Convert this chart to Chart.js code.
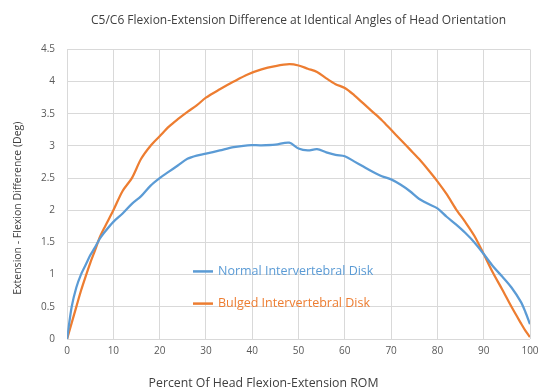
<!DOCTYPE html>
<html>
<head>
<meta charset="utf-8">
<script src="https://cdn.jsdelivr.net/npm/chart.js@4.4.1/dist/chart.umd.min.js"></script>
<style>
  html, body { margin: 0; padding: 0; background: #fff; }
  #wrap { width: 539px; height: 390px; }
</style>
</head>
<body>
<div id="wrap"><canvas id="grafico" width="539" height="390"></canvas></div>
<script>
// Dados (percentual do ROM -> diferença em graus)
const pctRom = [0, 1, 2, 3, 4, 5, 6, 7, 8, 10, 12, 14, 16, 18, 20, 22, 24, 26, 28, 30,
  33, 36, 39, 42, 45, 48, 50, 52, 54, 56, 58, 60, 62, 64, 66, 68, 70, 72, 74, 76, 78,
  80, 82, 84, 86, 88, 90, 92, 94, 96, 98, 99, 100];

const discoNormal = [0, 0.5, 0.8, 1.0, 1.15, 1.3, 1.42, 1.55, 1.65, 1.82, 1.95, 2.1, 2.22, 2.38, 2.5, 2.6, 2.7, 2.8, 2.85, 2.88,
  2.93, 2.98, 3.01, 3.01, 3.02, 3.05, 2.96, 2.93, 2.95, 2.9, 2.86, 2.84, 2.76, 2.68, 2.6, 2.53, 2.48, 2.4, 2.3, 2.18, 2.1,
  2.03, 1.9, 1.78, 1.65, 1.5, 1.32, 1.13, 0.97, 0.8, 0.58, 0.42, 0.23];

const discoAbaulado = [0, 0.25, 0.5, 0.75, 0.97, 1.18, 1.37, 1.57, 1.72, 2.0, 2.3, 2.5, 2.8, 3.0, 3.15, 3.3, 3.42, 3.53, 3.63, 3.75,
  3.88, 4.0, 4.11, 4.19, 4.24, 4.27, 4.25, 4.2, 4.15, 4.05, 3.96, 3.9, 3.79, 3.66, 3.53, 3.4, 3.25, 3.1, 2.95, 2.8, 2.63,
  2.45, 2.25, 2.02, 1.82, 1.6, 1.32, 1.03, 0.77, 0.5, 0.25, 0.13, 0.03];

const nomesSeries = ['Normal Intervertebral Disk', 'Bulged Intervertebral Disk'];
const coresSeries = ['#5B9BD5', '#ED7D31'];

const titulo = 'C5/C6 Flexion-Extension Difference at Identical Angles of Head Orientation';
const tituloX = 'Percent Of Head Flexion-Extension ROM';
const tituloY = 'Extension - Flexion Difference (Deg)';

const fonte = "'Open Sans', 'Liberation Sans', sans-serif";

function pontos(ys) {
  return pctRom.map((x, i) => ({ x: x, y: ys[i] }));
}

// Legenda dentro da área do gráfico + títulos dos eixos
const extras = {
  id: 'extras',
  afterDraw(chart) {
    const ctx = chart.ctx;
    const area = chart.chartArea;
    const xs = chart.scales.x;
    const ys = chart.scales.y;
    ctx.save();
    ctx.font = '12.5px ' + fonte;
    ctx.textBaseline = 'middle';
    chart.data.datasets.forEach((ds, i) => {
      const px = xs.getPixelForValue(27.2);
      const py = ys.getPixelForValue(1.05 - i * 0.5);
      ctx.strokeStyle = ds.borderColor;
      ctx.lineWidth = 2.5;
      ctx.beginPath();
      ctx.moveTo(px, py);
      ctx.lineTo(px + 20, py);
      ctx.stroke();
      ctx.fillStyle = ds.borderColor;
      ctx.fillText(ds.label, px + 25, py);
    });
    ctx.fillStyle = '#404040';
    ctx.textAlign = 'center';
    ctx.font = '12.3px ' + fonte;
    ctx.fillText(tituloX, (area.left + area.right) / 2 - 35, chart.height - 7);
    ctx.font = '10.5px ' + fonte;
    ctx.translate(18, (area.top + area.bottom) / 2 + 14);
    ctx.rotate(-Math.PI / 2);
    ctx.fillText(tituloY, 0, 0);
    ctx.restore();
  }
};

const grafico = new Chart(document.getElementById('grafico').getContext('2d'), {
  type: 'line',
  data: {
    datasets: [
      {
        label: nomesSeries[0],
        data: pontos(discoNormal),
        borderColor: coresSeries[0],
        borderWidth: 2.25,
        pointRadius: 0,
        tension: 0.3,
        fill: false
      },
      {
        label: nomesSeries[1],
        data: pontos(discoAbaulado),
        borderColor: coresSeries[1],
        borderWidth: 2.25,
        pointRadius: 0,
        tension: 0.3,
        fill: false
      }
    ]
  },
  options: {
    responsive: false,
    animation: false,
    layout: { padding: { left: 29, right: 0, top: 11, bottom: 27 } },
    plugins: {
      legend: { display: false },
      tooltip: { enabled: false },
      title: {
        display: true,
        text: titulo,
        fullSize: false,
        color: '#404040',
        font: { family: fonte, size: 12, weight: 'normal' },
        padding: { top: 2, bottom: 22 }
      }
    },
    scales: {
      x: {
        type: 'linear',
        min: 0,
        max: 100,
        afterFit: s => { s.paddingRight = 9; },
        ticks: { stepSize: 10, color: '#595959', font: { family: fonte, size: 10 }, padding: 6 },
        grid: { color: '#d9d9d9', drawTicks: false },
        border: { display: false }
      },
      y: {
        min: 0,
        max: 4.5,
        ticks: {
          stepSize: 0.5,
          color: '#595959',
          font: { family: fonte, size: 10 },
          padding: 12,
          callback: v => String(Math.round(v * 10) / 10)
        },
        grid: { color: '#d9d9d9', drawTicks: false },
        border: { display: false }
      }
    }
  },
  plugins: [extras]
});
</script>
</body>
</html>
